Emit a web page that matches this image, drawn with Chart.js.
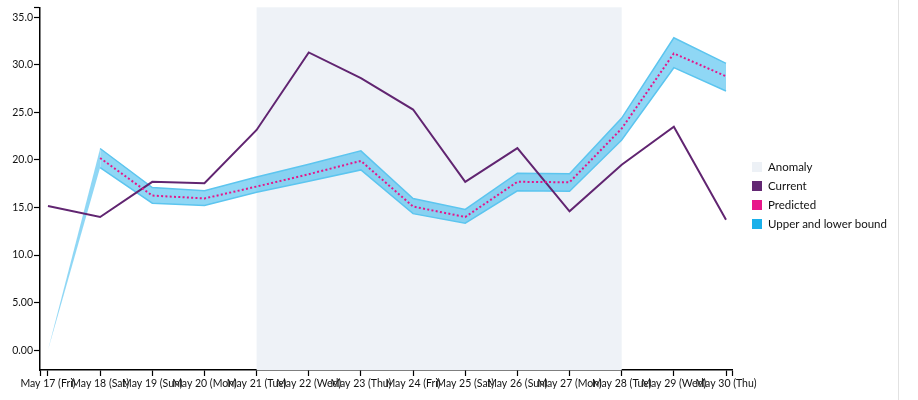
<!DOCTYPE html>
<html>
<head>
<meta charset="utf-8">
<script src="https://cdn.jsdelivr.net/npm/chart.js@4.4.1/dist/chart.umd.min.js"></script>
<style>
  html, body { margin: 0; padding: 0; background: #fff; }
  #wrap { position: relative; width: 898px; height: 400px; border-right: 1px solid #e2e2e2; }
  canvas { position: absolute; left: 0; top: 0; }
  #legend { position: absolute; left: 752px; top: 157px; font-family: Lato, "Noto Sans", sans-serif; font-size: 11.5px; color: #111; }
  .row { display: flex; align-items: center; height: 19px; }
  .sw { width: 10px; height: 10px; margin-right: 6px; }
</style>
</head>
<body>
<div id="wrap">
  <canvas id="c" width="898" height="400"></canvas>
  <div id="legend"></div>
</div>
<script>
const xLabels = ['May 17 (Fri)','May 18 (Sat)','May 19 (Sun)','May 20 (Mon)','May 21 (Tue)','May 22 (Wed)','May 23 (Thu)','May 24 (Fri)','May 25 (Sat)','May 26 (Sun)','May 27 (Mon)','May 28 (Tue)','May 29 (Wed)','May 30 (Thu)'];
const currentValues   = [15.15, 14.0, 17.7, 17.55, 23.15, 31.3, 28.6, 25.3, 17.7, 21.25, 14.6, 19.5, 23.5, 13.7];
const predictedValues = [null, 20.2, 16.25, 15.95, 17.2, 18.5, 19.9, 15.1, 14.0, 17.7, 17.65, 23.3, 31.2, 28.8];
const upperValues     = [0, 21.2, 17.1, 16.75, 18.2, 19.55, 20.95, 15.95, 14.8, 18.6, 18.55, 24.4, 32.85, 30.15];
const lowerValues     = [0, 19.2, 15.45, 15.2, 16.6, 17.75, 18.95, 14.35, 13.35, 16.75, 16.7, 22.1, 29.7, 27.25];
const anomalyRange    = ['May 21 (Tue)', 'May 28 (Tue)'];
const yTickValues     = [0, 5, 10, 15, 20, 25, 30, 35];
const yTickLabels     = ['0.00','5.00','10.0','15.0','20.0','25.0','30.0','35.0'];
const legendNames     = ['Anomaly','Current','Predicted','Upper and lower bound'];
const legendColors    = ['#edf1f6','#632873','#e8178a','#1ab0ea'];

const xMin = -0.153, xMax = 13.115, yMin = -2.09, yMax = 36.05;

const toPts = arr => arr.map((v, i) => ({x: i, y: v}));

const anomalyPlugin = {
  id: 'anomaly',
  beforeDatasetsDraw(chart) {
    const {ctx, chartArea, scales} = chart;
    const x0 = scales.x.getPixelForValue(xLabels.indexOf(anomalyRange[0]));
    const x1 = scales.x.getPixelForValue(xLabels.indexOf(anomalyRange[1]));
    ctx.save();
    ctx.fillStyle = '#eef2f7';
    ctx.fillRect(x0, chartArea.top, x1 - x0, chartArea.bottom - chartArea.top);
    ctx.restore();
  }
};

const bandEdge = '#5cc5ef';
const bandSeg = { borderColor: c => c.p0DataIndex === 0 ? 'rgba(0,0,0,0)' : bandEdge };
const tickFont = { family: 'Lato, "Noto Sans", sans-serif', size: 10.5 };

new Chart(document.getElementById('c'), {
  type: 'line',
  data: {
    datasets: [
      { label: 'Upper', data: toPts(upperValues), borderColor: bandEdge, borderWidth: 1.5,
        backgroundColor: 'rgba(40,178,236,0.52)', fill: '+1', pointRadius: 0, tension: 0, order: 4, segment: bandSeg },
      { label: 'Lower', data: toPts(lowerValues), borderColor: bandEdge, borderWidth: 1.5,
        fill: false, pointRadius: 0, tension: 0, order: 3, segment: bandSeg },
      { label: 'Current', data: toPts(currentValues), borderColor: '#612571', borderWidth: 2,
        fill: false, pointRadius: 0, tension: 0, order: 2 },
      { label: 'Predicted', data: toPts(predictedValues), borderColor: '#e5168a', borderWidth: 2,
        borderDash: [2, 2.3], fill: false, pointRadius: 0, tension: 0, order: 1, spanGaps: false }
    ]
  },
  options: {
    responsive: false,
    animation: false,
    layout: { padding: { top: 3, right: 166, left: 0, bottom: 0 } },
    plugins: { legend: { display: false }, tooltip: { enabled: false } },
    scales: {
      x: {
        type: 'linear', min: xMin, max: xMax,
        afterBuildTicks: s => { s.ticks = [{value: xMin}].concat(xLabels.map((l, i) => ({value: i}))).concat([{value: xMax}]); },
        afterFit: s => { s.height = 30; },
        grid: { drawOnChartArea: false, drawTicks: true, tickLength: 6, color: '#000', tickColor: '#000', tickWidth: 1.2 },
        border: { display: true, color: '#000', width: 1.5 },
        ticks: {
          autoSkip: false, maxRotation: 0, padding: 1, color: '#111',
          font: tickFont,
          callback: v => (Number.isInteger(v) && xLabels[v] !== undefined) ? xLabels[v] : ''
        }
      },
      y: {
        type: 'linear', min: yMin, max: yMax,
        afterBuildTicks: s => { s.ticks = yTickValues.map(v => ({value: v})).concat([{value: yMax}]); },
        afterFit: s => { s.width = 40; },
        grid: { drawOnChartArea: false, drawTicks: true, tickLength: 6, color: '#000', tickColor: '#000', tickWidth: 1.2 },
        border: { display: true, color: '#000', width: 1.5 },
        ticks: {
          autoSkip: false, padding: 1, color: '#111',
          font: tickFont,
          callback: v => { const i = yTickValues.indexOf(v); return i >= 0 ? yTickLabels[i] : ''; }
        }
      }
    }
  },
  plugins: [anomalyPlugin]
});

const lg = document.getElementById('legend');
legendNames.forEach((n, i) => {
  const r = document.createElement('div');
  r.className = 'row';
  r.innerHTML = '<div class="sw" style="background:' + legendColors[i] + '"></div><span>' + n + '</span>';
  lg.appendChild(r);
});
</script>
</body>
</html>
